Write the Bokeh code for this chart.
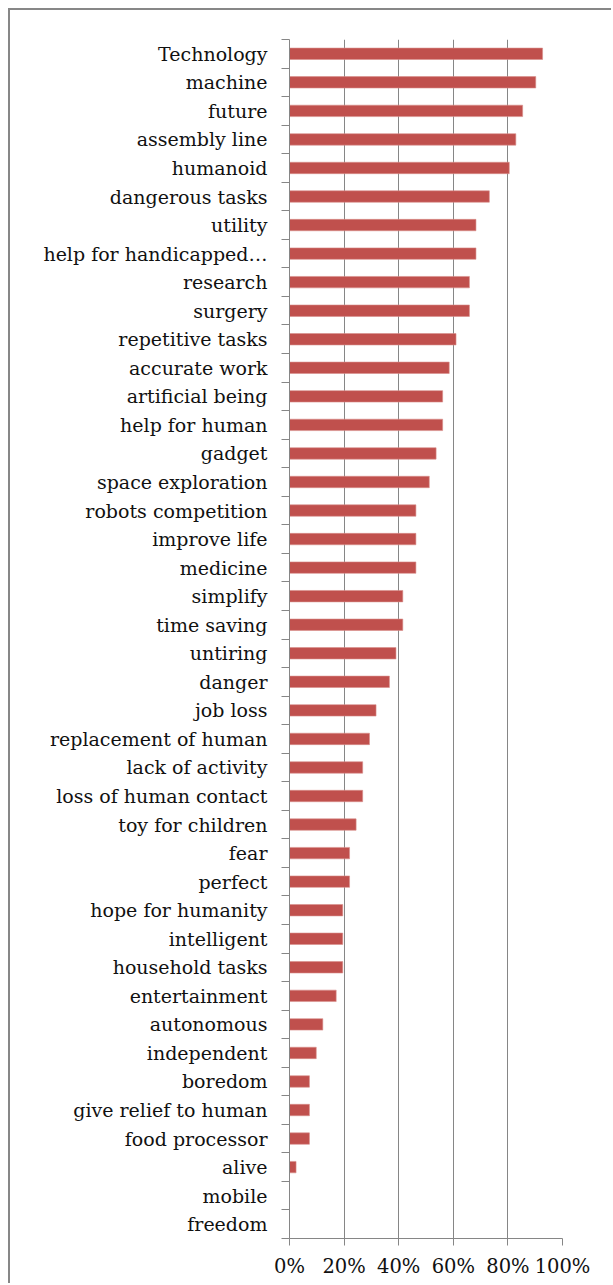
from bokeh.plotting import figure
from bokeh.models import FixedTicker, NumeralTickFormatter, ColumnDataSource, Range1d
from bokeh.embed import file_html
from bokeh.resources import INLINE

categories = [
    "Technology", "machine", "future", "assembly line", "humanoid",
    "dangerous tasks", "utility", "help for handicapped\u2026", "research", "surgery",
    "repetitive tasks", "accurate work", "artificial being", "help for human", "gadget",
    "space exploration", "robots competition", "improve life", "medicine", "simplify",
    "time saving", "untiring", "danger", "job loss", "replacement of human",
    "lack of activity", "loss of human contact", "toy for children", "fear", "perfect",
    "hope for humanity", "intelligent", "household tasks", "entertainment", "autonomous",
    "independent", "boredom", "give relief to human", "food processor", "alive",
    "mobile", "freedom",
]
values = [
    92.7, 90.2, 85.4, 82.9, 80.5,
    73.2, 68.3, 68.3, 65.9, 65.9,
    61.0, 58.5, 56.1, 56.1, 53.7,
    51.2, 46.3, 46.3, 46.3, 41.5,
    41.5, 39.0, 36.6, 31.7, 29.3,
    26.8, 26.8, 24.4, 22.0, 22.0,
    19.5, 19.5, 19.5, 17.1, 12.2,
    9.8, 7.3, 7.3, 7.3, 2.4,
    0.0, 0.0,
]
x_ticks = [0, 0.2, 0.4, 0.6, 0.8, 1.0]

n = len(categories)
ypos = [n - i - 0.5 for i in range(n)]
src = ColumnDataSource(dict(y=ypos, v=[v / 100 for v in values], name=categories))

FONT = "DejaVu Serif"
GRAY = "#868686"

p = figure(
    width=603, height=1275,
    output_backend="svg", toolbar_location=None,
    x_range=Range1d(0, 1), y_range=Range1d(0, n),
    min_border_left=279, min_border_right=51, min_border_top=29, min_border_bottom=47,
    margin=(8, 0, 0, 8),
    styles={"border-left": "2px solid #878787", "border-top": "2px solid #878787"},
)
p.outline_line_color = None
p.background_fill_color = "white"
p.border_fill_color = "white"

p.hbar(y="y", right="v", left=0, height=0.4, source=src,
       fill_color="#C0504D", line_color="#D98E8C", line_width=0.6)

# x axis
xa = p.xaxis[0]
xa.ticker = FixedTicker(ticks=x_ticks, minor_ticks=[])
xa.formatter = NumeralTickFormatter(format="0%")
xa.axis_line_color = GRAY
xa.major_tick_line_color = GRAY
xa.major_tick_out = 7
xa.major_tick_in = 0
xa.minor_tick_line_color = None
xa.major_label_text_font = FONT
xa.major_label_text_font_size = "19.5px"
xa.major_label_text_color = "#111111"
xa.major_label_standoff = 9

# y axis: labels at category centres, ticks at boundaries
ya = p.yaxis[0]
ya.ticker = FixedTicker(ticks=ypos, minor_ticks=list(range(n + 1)))
ya.major_label_overrides = {y: c for y, c in zip(ypos, categories)}
ya.axis_line_color = GRAY
ya.major_tick_line_color = None
ya.major_tick_out = 0
ya.major_tick_in = 0
ya.minor_tick_line_color = GRAY
ya.minor_tick_out = 8
ya.minor_tick_in = 0
ya.major_label_text_font = FONT
ya.major_label_text_font_size = "19px"
ya.major_label_text_color = "#111111"
ya.major_label_standoff = 14

p.xgrid.ticker = FixedTicker(ticks=x_ticks)
p.xgrid.grid_line_color = GRAY
p.xgrid.grid_line_width = 1
p.ygrid.grid_line_color = None

open("out.html", "w").write(file_html(p, INLINE))
